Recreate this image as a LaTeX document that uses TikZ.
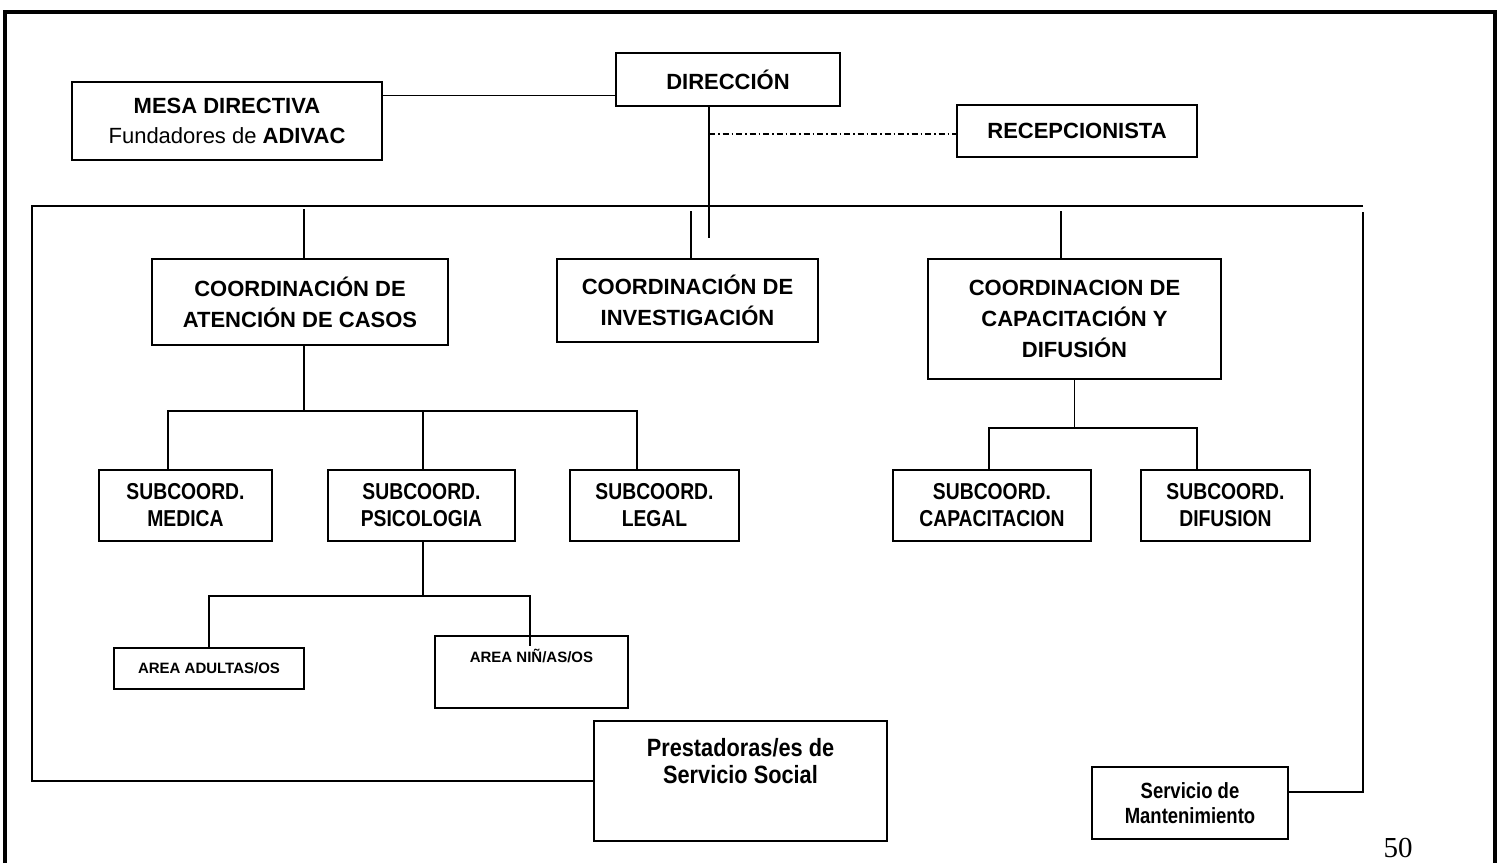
\documentclass[tikz,border=0pt]{standalone}
\usepackage{fontspec}
\setmainfont{Liberation Sans}
\newfontfamily\condf[FakeStretch=0.84]{Liberation Sans}
\newfontfamily\condg[FakeStretch=0.87]{Liberation Sans}
\newfontfamily\pagenumfont{Liberation Serif}
\usetikzlibrary{calc}
\begin{document}
\begin{tikzpicture}[x=1pt,y=-1pt,
  box/.style={draw, line width=2pt, inner sep=0pt, align=center},
  bigtxt/.style={font=\fontsize{22}{31}\selectfont\bfseries},
  subtxt/.style={font=\condf\fontsize{23}{27}\selectfont\bfseries},
  areatxt/.style={font=\fontsize{15}{18}\selectfont\bfseries},
  prestxt/.style={font=\condg\fontsize{25}{27}\selectfont\bfseries},
  manttxt/.style={font=\condf\fontsize{22}{25}\selectfont\bfseries},
  conn/.style={line width=1.6pt},
  dashdotline/.style={line width=1.4pt, dash pattern=on 6pt off 3pt on 1.5pt off 3pt}]
\useasboundingbox (0,0) rectangle (1502,863);
\fill[white] (0,0) rectangle (1502,863);
% frame
\draw[line width=4pt] (5,863) -- (5,11.5) -- (1495,11.5) -- (1495,863);
% boxes
\node[box,bigtxt,minimum width=224pt,minimum height=53pt] (dir) at (728,79.5) {DIRECCIÓN};
\node[box,minimum width=310pt,minimum height=78pt,font=\fontsize{22}{30}\selectfont] (mesa) at (227,121) {\textbf{MESA DIRECTIVA}\\Fundadores de \textbf{ADIVAC}};
\node[box,bigtxt,minimum width=240pt,minimum height=52pt] (recep) at (1077,131) {RECEPCIONISTA};
\node[box,bigtxt,minimum width=296pt,minimum height=86pt] (aten) at (300,302) {COORDINACIÓN DE\\ATENCIÓN DE CASOS};
\node[box,bigtxt,minimum width=261pt,minimum height=83pt] (inv) at (687.5,300.5) {COORDINACIÓN DE\\INVESTIGACIÓN};
\node[box,bigtxt,minimum width=293pt,minimum height=120pt] (cap) at (1074.5,319) {COORDINACION DE\\CAPACITACIÓN Y\\DIFUSIÓN};
\node[box,subtxt,minimum width=173pt,minimum height=71pt] (med) at (185.5,505.5) {SUBCOORD.\\MEDICA};
\node[box,subtxt,minimum width=187pt,minimum height=71pt] (psi) at (421.5,505.5) {SUBCOORD.\\PSICOLOGIA};
\node[box,subtxt,minimum width=169pt,minimum height=71pt] (leg) at (654.5,505.5) {SUBCOORD.\\LEGAL};
\node[box,subtxt,minimum width=198pt,minimum height=71pt] (scap) at (992,505.5) {SUBCOORD.\\CAPACITACION};
\node[box,subtxt,minimum width=169pt,minimum height=71pt] (sdif) at (1225.5,505.5) {SUBCOORD.\\DIFUSION};
\node[box,areatxt,minimum width=190pt,minimum height=41pt] (adu) at (209,668.5) {AREA ADULTAS/OS};
\node[box,minimum width=193pt,minimum height=72pt] (nin) at (531.5,672) {};
\node[areatxt,anchor=base,inner sep=0pt] (nint) at ([yshift=-27pt]nin.north) {AREA NIÑ/AS/OS};
\node[box,minimum width=293pt,minimum height=120pt] (pres) at (740.5,781) {};
\node[prestxt,anchor=north,inner sep=0pt,align=center] (prest) at ([yshift=-18pt]pres.north) {Prestadoras/es de\\Servicio Social};
\node[box,manttxt,minimum width=196pt,minimum height=72pt] (mant) at (1190,803) {Servicio de\\Mantenimiento};
\node[font=\pagenumfont\fontsize{29}{29}\selectfont,anchor=base,inner sep=0pt] (pg) at (1398,857) {50};
% connectors
\coordinate (busL) at (32,206);
\coordinate (busR) at (1363,206);
\coordinate (me) at ([yshift=11pt]mant.east);
\path ($(mesa.north east)!0.18!(mesa.south east)$) coordinate (m1);
\draw[conn] (m1) -- (m1 -| dir.west);
\draw[conn] ([xshift=-19pt]dir.south) -- ++(0,131);
\coordinate (dd) at ([xshift=-19pt,yshift=-3pt]dir.south |- recep.west);
\coordinate (rw) at ([yshift=-3pt]recep.west);
\draw[dashdotline] (dd) -- (rw);
\draw[conn] (busR) -- (busL) -- (busL |- pres.west) -- (pres.west);
\draw[conn] ([yshift=-6pt]busR) -- (busR |- me) -- (me);
\draw[conn] ([xshift=4pt]aten.north) -- ++(0,-49);
\draw[conn] ([xshift=3.5pt]inv.north) -- ++(0,-47);
\draw[conn] ([xshift=-13.5pt]cap.north) -- ++(0,-47);
\draw[conn] ([xshift=4pt]aten.south) -- ++(0,65) coordinate (ab);
\coordinate (lt) at ([xshift=-17.5pt]leg.north);
\draw[conn] ([xshift=-17.5pt]med.north) |- (lt |- ab) -- (lt);
\coordinate (pt) at ([xshift=1.5pt]psi.north);
\draw[conn] (pt) -- (pt |- ab);
\draw[conn] ([xshift=1.5pt]psi.south) -- ++(0,54) coordinate (pb);
\coordinate (nt) at ([xshift=-1.5pt]nin.north);
\draw[conn] (adu.north) |- (nt |- pb) -- ([yshift=-11pt]nt);
\draw[conn] (cap.south) -- ++(0,48) coordinate (cb);
\coordinate (dt) at ([xshift=-28.5pt]sdif.north);
\draw[conn] ([xshift=-3pt]scap.north) |- (dt |- cb) -- (dt);
\end{tikzpicture}
\end{document}
